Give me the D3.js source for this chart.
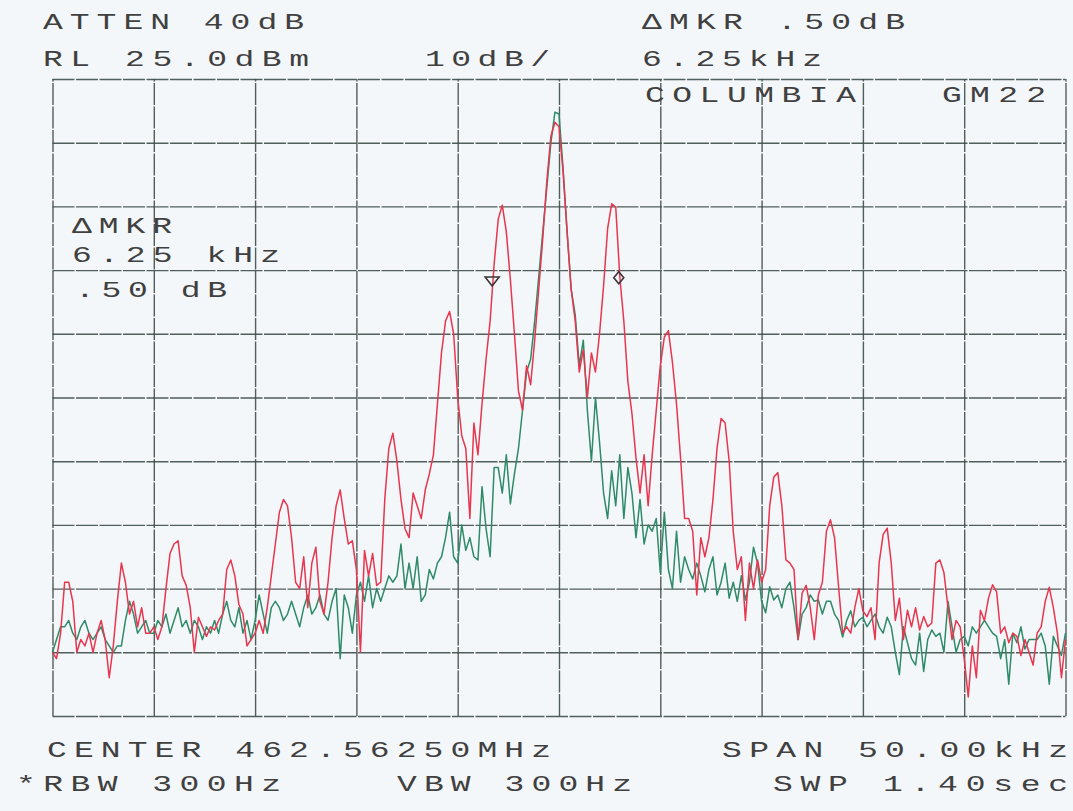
<!DOCTYPE html>
<html><head><meta charset="utf-8">
<script src="https://cdn.jsdelivr.net/npm/d3@7"></script>
<style>html,body{margin:0;padding:0;background:#f4f7fa;} svg{display:block}</style>
</head><body>
<svg id="chart" width="1073" height="811"></svg>
<script>
// ---- data ----
const sweepStartKHz = -25;      // offset from centre 462.56250 MHz
const sweepStepKHz = 0.2;
const freqTicksKHz = [-25, -20, -15, -10, -5, 0, 5, 10, 15, 20, 25];
const levelTicksDbm = [25, 15, 5, -5, -15, -25, -35, -45, -55, -65, -75];

// red trace (dBm), one row per division
const redDbm = [
  -65,-66,-62,-54,-54,-57,-65,-63,-64,-62,-65,-62,-60,-63,-69,-64,-57,-51,-54,-59,-57,-61,-58,-62,-62,
  -61,-63,-61,-55,-49.5,-48,-47.5,-53,-54.5,-58,-65,-59.5,-61,-62.5,-61,-61.5,-60,-59,-52,-50.5,-53,-57.5,-59,-64,-63,
  -62,-60,-62,-58,-53,-48,-43,-41,-42,-47,-54,-55,-50,-58,-51,-48.5,-57,-59,-54,-47,-42,-39.5,-44,-48,-47.5,
  -52,-65,-49,-53,-49.5,-54.5,-54,-41,-33,-30.6,-35,-41,-45.6,-47,-40,-42,-44,-39.5,-37,-34,-26,-18,-13,-11.5,-15,
  -25,-31,-33,-44,-29,-34,-26,-19,-13,-4,3,5.2,1,-6.5,-15,-24,-27,-20,-23,-16,-8,0,9,16,18.2,
  17.5,10.5,1,-8,-13,-21,-17.5,-25,-18,-21,-15,-7.5,1.5,5.4,4.9,-6,-13,-22.5,-27.5,-34.5,-40,-34,-42,-34,-27,
  -20,-15.5,-14.5,-19.5,-26,-34.5,-44,-44,-46,-56,-47,-50,-47,-41,-33,-28.3,-29,-35,-46,-52,-50,-60,-51,-55,-50.5,
  -54,-52,-42,-37.5,-36.8,-42,-50.5,-51,-52,-63,-55.7,-54.5,-57.9,-63,-56,-54,-46,-44.2,-47,-54.7,-62,-61,-62,-58,-55,
  -58.5,-59.4,-58,-63,-51,-46.5,-45.5,-51,-60,-56.5,-63,-58.4,-61,-58,-61.5,-59.4,-61,-60.4,-51,-50.5,-52.5,-58,-63,-60,-61,
  -66,-72,-64,-69,-58.4,-60,-56.5,-54.4,-55.5,-62,-61,-63.5,-62,-62.5,-65.5,-63,-65,-67,-62,-61,-57,-54.8,-58,-62,-69,
  -63
];
// green trace (dBm)
const greenDbm = [
  -65,-63,-61,-61,-60,-62,-63,-61,-60,-62,-63,-62,-61,-63,-64,-65,-64,-64,-60,-57,-59,-62,-61,-60,-62,
  -62,-60,-61,-59,-62,-60,-58,-61,-60,-62,-60,-61,-63,-61,-62,-60,-62,-59,-57,-60,-61,-58,-62,-60,-63,
  -60,-56,-59,-62,-58,-57,-58,-60,-59,-57,-59,-61,-58,-56,-59,-58,-56,-59,-60,-57,-55,-66,-56,-58,-62,
  -56,-54,-57,-53,-58,-55,-57,-55,-53,-54,-53,-48,-55,-51,-55,-50,-57,-56,-52,-53.5,-51,-50,-47,-43,-50,
  -51,-45,-49,-47,-50,-50.5,-39,-45.6,-50,-36,-36,-40,-34,-41.7,-37,-33,-27,-21,-19,-13,-6,1,8,15,19.8,
  19.5,11,1,-8,-12,-20,-16,-27,-35,-25,-32,-40,-44,-36.5,-42,-34,-44,-36,-40,-47,-41,-48,-45,-46,-44,
  -52.5,-43,-52,-55,-46,-54,-50,-52,-53.5,-51,-53,-55.5,-52,-50,-56,-54,-51,-56.5,-54,-57,-53,-56.8,-54,-48.5,-51,
  -57,-58.8,-54.7,-56.8,-56,-58,-55,-54,-58,-63,-59,-58,-56,-57,-56.8,-59,-57,-57,-59,-60,-62.6,-60,-58.5,-61,-60,
  -59.5,-61,-60,-59,-61,-62,-59.5,-61,-65,-68.5,-61,-63.5,-66,-67,-62,-68,-63,-61.5,-62.5,-62,-65,-57,-61,-65,-63,
  -62.5,-64,-61,-62,-61,-60,-61,-62,-62.5,-66,-63,-70,-62,-63.5,-61,-64.5,-63,-63,-63,-62,-64,-70,-62.5,-64,-65.5,
  -62
];

const markerFreqKHz = [-3.3, 2.95];
const markerDbm = [-6.7, -6.2];
const markerShapes = ["triangle", "diamond"];

const headerTexts = ["ATTEN 40dB", "\u0394MKR .50dB", "RL 25.0dBm", "10dB/", "6.25kHz", "COLUMBIA", "GM22"];
const readoutTexts = ["\u0394MKR", "6.25 kHz", ".50 dB"];
const footerTexts = ["CENTER 462.56250MHz", "SPAN 50.00kHz", "*RBW 300Hz", "VBW 300Hz", "SWP 1.40sec"];

// ---- layout ----
const W = 1073, H = 811;
const plotL = 52.5, plotR = 1065.5, plotT = 79, plotB = 716;
const gridColor = "#3f4e49", textColor = "#404040";
const redColor = "#e8364f", greenColor = "#2f8a68";

const svg = d3.select("#chart");
svg.append("rect").attr("width", W).attr("height", H).attr("fill", "#f4f7fa");

const x = d3.scaleLinear().domain([-25, 25]).range([plotL, plotR]);
const y = d3.scaleLinear().domain([-75, 25]).range([plotB, plotT]);

// grid via axes
const gx = svg.append("g").attr("transform", `translate(0,${plotB})`)
  .call(d3.axisBottom(x).tickValues(freqTicksKHz).tickSize(-(plotB - plotT)).tickFormat(""));
const gy = svg.append("g").attr("transform", `translate(${plotL},0)`)
  .call(d3.axisLeft(y).tickValues(levelTicksDbm).tickSize(-(plotR - plotL)).tickFormat(""));
[gx, gy].forEach(g => {
  g.select(".domain").remove();
  g.selectAll(".tick line").attr("stroke", gridColor).attr("stroke-width", 1.4)
    .attr("stroke-dasharray", "22,1.5").attr("opacity", 0.9);
});

// traces
const line = d3.line()
  .x((d, i) => x(sweepStartKHz + i * sweepStepKHz))
  .y(d => y(d));
svg.append("path").datum(greenDbm).attr("d", line)
  .attr("fill", "none").attr("stroke", greenColor).attr("stroke-width", 1.5).attr("stroke-linejoin", "round");
svg.append("path").datum(redDbm).attr("d", line)
  .attr("fill", "none").attr("stroke", redColor).attr("stroke-width", 1.5).attr("stroke-linejoin", "round");

// markers
markerShapes.forEach((s, k) => {
  const mx = x(markerFreqKHz[k]), my = y(markerDbm[k]);
  const p = s === "triangle"
    ? `M${mx - 7},${my - 4}L${mx + 7},${my - 4}L${mx},${my + 5}Z`
    : `M${mx},${my - 6}L${mx + 5},${my}L${mx},${my + 6}L${mx - 5},${my}Z`;
  svg.append("path").attr("d", p).attr("fill", "none").attr("stroke", "#3a3434").attr("stroke-width", 1.6);
});

// text
const sx = 1.5;
function label(t, px, base, width) {
  svg.append("text")
    .attr("transform", `translate(${px},${base}) scale(${sx},1)`)
    .attr("font-family", "Liberation Mono, DejaVu Sans Mono, monospace")
    .attr("font-size", 22)
    .attr("fill", textColor)
    .attr("textLength", width / sx)
    .attr("lengthAdjust", "spacing")
    .text(t);
}
const headerPos = [[43, 29, 261], [642, 29, 263], [43, 66, 266], [425, 66, 125], [642, 66, 180], [645, 102, 211], [942, 102, 104]];
headerTexts.forEach((t, i) => label(t, ...headerPos[i]));
const readoutPos = [[72, 233, 100], [72, 262, 208], [75, 297, 152]];
readoutTexts.forEach((t, i) => label(t, ...readoutPos[i]));
const footerPos = [[47, 757, 504], [722, 757, 346], [16, 791, 265], [397, 791, 235], [773, 791, 295]];
footerTexts.forEach((t, i) => label(t, ...footerPos[i]));
</script>
</body></html>
